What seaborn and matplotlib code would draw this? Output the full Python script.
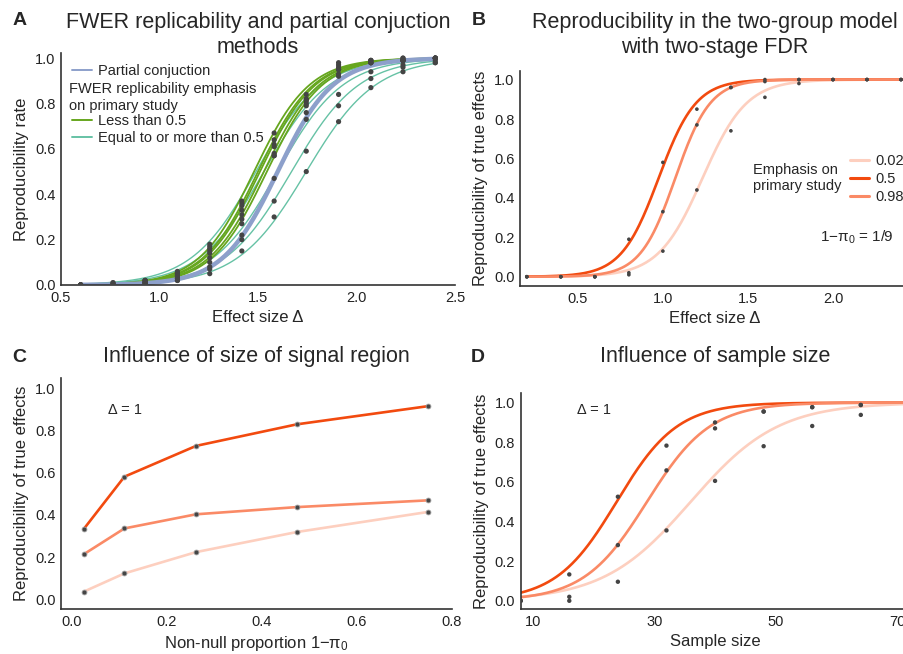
import numpy as np
import pandas as pd
import matplotlib
matplotlib.use("Agg")
import matplotlib.pyplot as plt
import seaborn as sns
from matplotlib.lines import Line2D

# ---- A: FWER replicability vs partial conjunction
delta_a = [0.6, 0.764, 0.927, 1.091, 1.255, 1.418, 1.582, 1.745, 1.909, 2.073, 2.236, 2.4]
fwer_low = [  # emphasis on primary study < 0.5
    [0.00, 0.01, 0.02, 0.05, 0.17, 0.37, 0.67, 0.84, 0.98, 0.99, 1.00, 1.00],
    [0.00, 0.00, 0.02, 0.05, 0.16, 0.35, 0.64, 0.82, 0.97, 0.99, 1.00, 1.00],
    [0.00, 0.00, 0.01, 0.04, 0.14, 0.33, 0.61, 0.81, 0.96, 0.99, 0.99, 1.00],
    [0.00, 0.00, 0.01, 0.04, 0.12, 0.29, 0.58, 0.80, 0.95, 0.98, 0.99, 1.00],
    [0.00, 0.00, 0.01, 0.03, 0.08, 0.27, 0.57, 0.79, 0.93, 0.98, 0.99, 1.00],
]
fwer_high = [  # emphasis >= 0.5
    [0.00, 0.01, 0.02, 0.06, 0.18, 0.36, 0.62, 0.82, 0.95, 0.98, 0.99, 1.00],
    [0.00, 0.00, 0.02, 0.05, 0.15, 0.31, 0.57, 0.76, 0.92, 0.98, 0.99, 1.00],
    [0.00, 0.00, 0.01, 0.03, 0.10, 0.22, 0.47, 0.73, 0.84, 0.94, 0.97, 0.99],
    [0.00, 0.00, 0.01, 0.02, 0.07, 0.20, 0.37, 0.59, 0.79, 0.91, 0.96, 0.98],
    [0.00, 0.00, 0.01, 0.02, 0.05, 0.15, 0.30, 0.50, 0.72, 0.87, 0.94, 0.98],
]
# fitted logistic curves (midpoint, scale)
low_mid = [1.48, 1.50, 1.51, 1.53, 1.545]
low_scale = [0.14, 0.14, 0.14, 0.14, 0.14]
high_mid = [1.49, 1.53, 1.60, 1.67, 1.745]
high_scale = [0.165, 0.165, 0.165, 0.17, 0.175]
pc_mid = 1.60
pc_scale = 0.14

# ---- B: two-group model, two-stage FDR
emphasis = ["0.02", "0.5", "0.98"]
delta_b = [0.2, 0.4, 0.6, 0.8, 1.0, 1.2, 1.4, 1.6, 1.8, 2.0, 2.2, 2.4]
repro_b = {
    "0.02": [0.00, 0.00, 0.00, 0.01, 0.13, 0.44, 0.74, 0.91, 0.98, 1.00, 1.00, 1.00],
    "0.5": [0.00, 0.00, 0.00, 0.19, 0.58, 0.85, 0.96, 1.00, 1.00, 1.00, 1.00, 1.00],
    "0.98": [0.00, 0.00, 0.00, 0.02, 0.33, 0.77, 0.96, 0.99, 1.00, 1.00, 1.00, 1.00],
}
mid_b = {"0.02": 1.233, "0.5": 0.975, "0.98": 1.073}
scale_b = {"0.02": 0.13, "0.5": 0.11, "0.98": 0.103}

# ---- C: size of signal region
nonnull = [0.025, 0.111, 0.262, 0.474, 0.75]
repro_c = {
    "0.02": [0.036, 0.123, 0.224, 0.319, 0.414],
    "0.5": [0.332, 0.581, 0.727, 0.829, 0.915],
    "0.98": [0.213, 0.336, 0.403, 0.437, 0.469],
}

# ---- D: sample size
sample_n = [8, 16, 24, 32, 40, 48, 56, 64]
repro_d = {
    "0.02": [0.00, 0.00, 0.096, 0.355, 0.605, 0.78, 0.882, 0.938],
    "0.5": [0.00, 0.133, 0.525, 0.783, 0.90, 0.955, 0.977, 0.988],
    "0.98": [0.00, 0.02, 0.281, 0.658, 0.87, 0.955, 0.977, 0.988],
}
mid_d = {"0.02": 36.0, "0.5": 23.8, "0.98": 28.8}
scale_d = {"0.02": 7.2, "0.5": 5.0, "0.98": 5.2}

green = "#66a61e"
teal = "#66c2a5"
blue = "#8da0cb"
reds = {"0.02": "#fdcfbf", "0.5": "#f24a0f", "0.98": "#fa8a66"}
dot = "#444444"


def logistic(x, m, s):
    return 1.0 / (1.0 + np.exp(-(x - m) / s))


sns.set_style("white")
plt.rcParams["font.family"] = ["Liberation Sans", "DejaVu Sans"]
plt.rcParams["mathtext.default"] = "regular"
plt.rcParams["axes.edgecolor"] = "#333333"
plt.rcParams["axes.linewidth"] = 1.2

fig = plt.figure(figsize=(9.04, 6.54), dpi=100)
W, H = 904.0, 654.0


def px_axes(l, t, r, b):
    return fig.add_axes([l / W, 1 - b / H, (r - l) / W, (b - t) / H])


axA = px_axes(61, 52.7, 455, 285)
axB = px_axes(520, 70.7, 910, 286)
axC = px_axes(61, 378.3, 451.7, 609.3)
axD = px_axes(520.7, 393.3, 910, 609.3)

TICK = 10.5
LAB = 12
TIT = 15.5

# ----- A
xa = np.linspace(0.6, 2.4, 200)
for m, s in zip(high_mid, high_scale):
    sns.lineplot(x=xa, y=logistic(xa, m, s), color=teal, lw=1.0, ax=axA)
for m, s in zip(low_mid, low_scale):
    sns.lineplot(x=xa, y=logistic(xa, m, s), color=green, lw=1.3, ax=axA)
sns.lineplot(x=xa, y=logistic(xa, pc_mid, pc_scale), color=blue, lw=3.2, ax=axA)
for vals in fwer_low + fwer_high:
    sns.scatterplot(x=delta_a, y=vals, color=dot, s=14, edgecolor="none", zorder=5, ax=axA)
axA.set_xlim(0.5, 2.5)
axA.set_ylim(0, 1.024)
axA.set_xticks([0.5, 1.0, 1.5, 2.0, 2.5])
axA.set_yticks([0.0, 0.2, 0.4, 0.6, 0.8, 1.0])
axA.set_xlabel("Effect size Δ", fontsize=LAB)
axA.set_ylabel("Reproducibility rate", fontsize=LAB)
axA.set_title("FWER replicability and partial conjuction\nmethods",
              fontsize=TIT, va="bottom", pad=-3.5)
leg1 = axA.legend(handles=[Line2D([], [], color=blue, lw=1.4)], labels=["Partial conjuction"],
                  loc="center left", bbox_to_anchor=(0.028, 0.921), frameon=False,
                  fontsize=TICK, handlelength=1.4, handletextpad=0.35,
                  borderpad=0, borderaxespad=0)
axA.add_artist(leg1)
axA.text(0.0203, 0.807, "FWER replicability emphasis\non primary study", transform=axA.transAxes,
         fontsize=TICK, va="center", ha="left", linespacing=1.25)
axA.legend(handles=[Line2D([], [], color=green, lw=1.4), Line2D([], [], color=teal, lw=1.4)],
           labels=["Less than 0.5", "Equal to or more than 0.5"],
           loc="center left", bbox_to_anchor=(0.028, 0.669), frameon=False,
           fontsize=TICK, handlelength=1.4, handletextpad=0.35, labelspacing=0.15,
           borderpad=0, borderaxespad=0)

# ----- B
xb = np.linspace(0.2, 2.5, 300)
for e in emphasis:
    sns.lineplot(x=xb, y=logistic(xb, mid_b[e], scale_b[e]), color=reds[e], lw=1.9, ax=axB)
for e in emphasis:
    sns.scatterplot(x=delta_b, y=repro_b[e], color=dot, s=7, edgecolor="none", zorder=5, ax=axB)
axB.set_xlim(0.16, 2.453)
axB.set_ylim(-0.047, 1.045)
axB.set_xticks([0.5, 1.0, 1.5, 2.0])
axB.set_yticks([0.0, 0.2, 0.4, 0.6, 0.8, 1.0])
axB.set_xlabel("Effect size Δ", fontsize=LAB)
axB.set_ylabel("Reproducibility of true effects", fontsize=LAB)
axB.set_title("Reproducibility in the two-group model\nwith two-stage FDR",
              fontsize=TIT, va="bottom", pad=9.5)
axB.legend(handles=[Line2D([], [], color=reds[e], lw=2.2) for e in emphasis], labels=emphasis,
           loc="center left", bbox_to_anchor=(0.846, 0.497), frameon=False,
           fontsize=TICK, handlelength=1.3, handletextpad=0.45, labelspacing=0.3,
           borderpad=0, borderaxespad=0)
axB.text(0.597, 0.502, "Emphasis on\nprimary study", transform=axB.transAxes,
         fontsize=TICK, va="center", ha="left", linespacing=1.2)
axB.text(0.769, 0.206, "1−π$_0$ = 1/9", transform=axB.transAxes,
         fontsize=11, va="baseline", ha="left")

# ----- C
dfc = pd.DataFrame({
    "nonnull": nonnull * 3,
    "repro": repro_c["0.02"] + repro_c["0.5"] + repro_c["0.98"],
    "emphasis": ["0.02"] * 5 + ["0.5"] * 5 + ["0.98"] * 5,
})
sns.lineplot(data=dfc, x="nonnull", y="repro", hue="emphasis", palette=reds,
             lw=1.9, legend=False, ax=axC)
sns.scatterplot(data=dfc, x="nonnull", y="repro", color=dot, s=12,
                edgecolor="#9a9a9a", linewidth=0.6, zorder=5, legend=False, ax=axC)
axC.set_xlim(-0.0225, 0.8)
axC.set_ylim(-0.047, 1.047)
axC.set_xticks([0.0, 0.2, 0.4, 0.6, 0.8])
axC.set_yticks([0.0, 0.2, 0.4, 0.6, 0.8, 1.0])
axC.set_xlabel("Non-null proportion 1−π$_0$", fontsize=LAB)
axC.set_ylabel("Reproducibility of true effects", fontsize=LAB)
axC.set_title("Influence of size of signal region", fontsize=TIT, va="bottom", pad=8.3)
axC.text(0.120, 0.844, "Δ = 1", transform=axC.transAxes, fontsize=TICK, va="baseline")

# ----- D
xd = np.linspace(8, 73, 300)
for e in emphasis:
    sns.lineplot(x=xd, y=logistic(xd, mid_d[e], scale_d[e]), color=reds[e], lw=1.9, ax=axD)
for e in emphasis:
    sns.scatterplot(x=sample_n, y=repro_d[e], color=dot, s=10, edgecolor="none", zorder=5, ax=axD)
axD.set_xlim(8, 72.1)
axD.set_ylim(-0.043, 1.047)
axD.set_xticks([10, 30, 50, 70])
axD.set_yticks([0.0, 0.2, 0.4, 0.6, 0.8, 1.0])
axD.set_xlabel("Sample size", fontsize=LAB)
axD.set_ylabel("Reproducibility of true effects", fontsize=LAB)
axD.set_title("Influence of sample size", fontsize=TIT, va="bottom", pad=19.1)
axD.text(0.144, 0.903, "Δ = 1", transform=axD.transAxes, fontsize=TICK, va="baseline")

for ax in (axA, axB, axC, axD):
    sns.despine(ax=ax)
    ax.tick_params(length=0, pad=4, labelsize=TICK, colors="#222222")
    ax.spines["left"].set_linewidth(1.2)
    ax.spines["bottom"].set_linewidth(1.2)

for lab, xp, yp in [("A", 13, 25), ("B", 472, 25), ("C", 12, 362), ("D", 471, 362)]:
    fig.text(xp / W, 1 - yp / H, lab, fontsize=14, fontweight="bold", va="baseline", ha="left")

fig.savefig("out.png", dpi=100)
